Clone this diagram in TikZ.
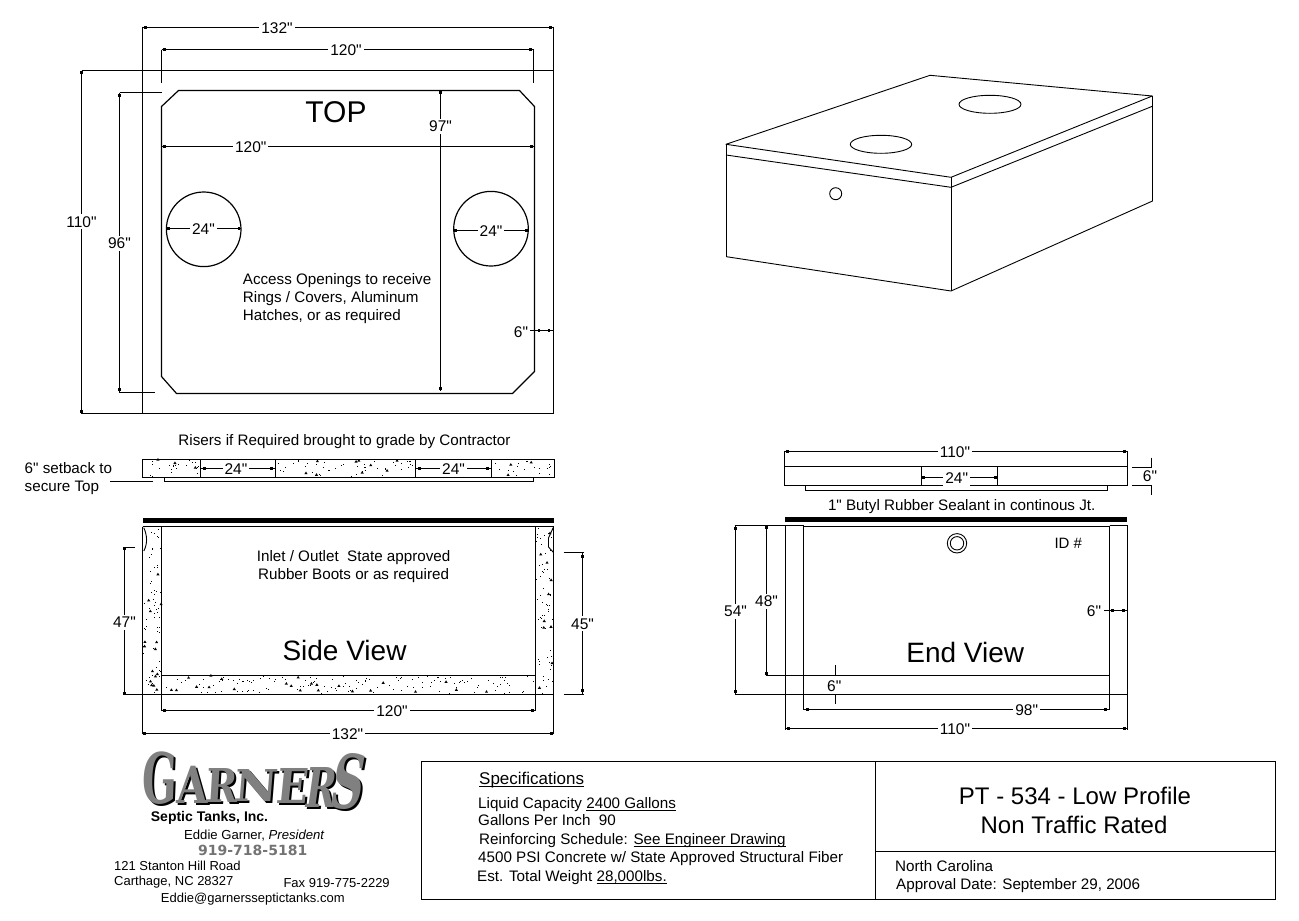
\documentclass[tikz,border=0pt]{standalone}
\usepackage{fontspec}
\setmainfont{Liberation Sans}
\newfontfamily\logof{DejaVu Serif}
\newfontfamily\phonef{DejaVu Sans}
\newcommand\fs[1]{\fontsize{#1}{#1}\selectfont}
\newcommand\q{\XeTeXglyph\XeTeXcharglyph"22\relax}
\newcommand\ulx[1]{\setbox0\hbox{#1}\rlap{\rule[-2.4pt]{\wd0}{0.9pt}}\box0}
\newcommand\dt[2]{\fill ({#1-1.3},{#2-1.3}) rectangle ++(2.6,2.6);}
% horizontal dimension: name, y, x1, x2, inset, label x, text
\newcommand\hd[7]{\draw[ln] (#3,#2) -- (#4,#2);\dt{#3+#5}{#2}\dt{#4-#5}{#2}\node[dimlab] (#1) at (#6,#2) {#7};}
% vertical dimension: name, x, y1, y2, inset, label y, text
\newcommand\vd[7]{\draw[ln] (#2,#3) -- (#2,#4);\dt{#2}{#3+#5}\dt{#2}{#4-#5}\node[dimlab] (#1) at (#2,#6) {#7};}
\newcommand\specks[5]{%
 \foreach \i in {1,...,#5}{%
  \pgfmathsetmacro\px{#1+rnd*(#3-#1-1)}\pgfmathsetmacro\py{#2+rnd*(#4-#2-1)}\pgfmathsetmacro\k{rnd}%
  \ifdim\k pt<0.14pt
   \fill (\px,\py) -- ++(1.6,-2.6) -- ++(1.6,2.6) -- cycle;
  \else
   \fill (\px,\py) rectangle ++(1,1);
  \fi}}
\newcommand\gl[7]{% name, x1, y-bottom, w, h, letter, slant
 \node[glet,black,xslant=#7] (#1s) at ({#2+2},{#3+1.6}) {\resizebox{#4pt}{#5pt}{\logof\bfseries #6}};
 \node[glet,gray,xslant=#7] (#1) at (#2,#3) {\resizebox{#4pt}{#5pt}{\logof\bfseries #6}};}
\tikzset{
 ln/.style={line width=1.2pt,line cap=butt},
 thinln/.style={line width=.9pt},
 txt/.style={inner sep=0pt,font=\fs{15.2},yshift=-2.8pt},
 dimlab/.style={fill=white,inner sep=2pt,font=\fs{15.5},yshift=-.8pt},
 big/.style={inner sep=0pt,font=\fs{28},yshift=.2pt},
 glet/.style={inner sep=0pt,anchor=south west,transform shape},
 logot/.style={inner sep=0pt,font=\fs{13},yshift=-1.5pt},
}
\begin{document}
\begin{tikzpicture}[x=1pt,y=-1pt]
\useasboundingbox (0,0) rectangle (1299,921);
\fill[white] (0,0) rectangle (1299,921);
\pgfmathsetseed{5311}
%% ---------- TOP ----------
\draw[ln] (81.5,70.5) -- (553.5,70.5) (81.5,413.5) -- (553.5,413.5);
\draw[ln] (142.5,26.5) -- (142.5,413.5) (553.5,26.5) -- (553.5,413.5);
\draw[ln] (161.5,49.5) -- (161.5,82.5) (533.5,49.5) -- (533.5,82.5);
\draw[ln,line join=miter] (161.5,106.5) -- (178.5,90.5) -- (519.5,90.5) -- (534.5,106.5) -- (534.5,371.5) -- (512.5,393.5) -- (176.5,393.5) -- (161.5,376.5) -- cycle;
\draw[ln] (119.5,92.5) -- (161.5,92.5) (119.5,392.5) -- (155,392.5);
\hd{d132}{27.5}{142.5}{553.5}{3}{277}{132\q}
\hd{d120a}{49.5}{161.5}{533.5}{3}{346}{120\q}
\hd{d120b}{146.5}{161.5}{534.5}{3}{250.7}{120\q}
\vd{d97}{440.5}{90.5}{390.5}{2}{125.7}{97\q}
\vd{d96}{119.5}{92.5}{392.5}{3}{242.3}{96\q}
\vd{d110}{81.5}{70.5}{413.5}{2}{221}{110\q}
\node[big,font=\fs{30}] (topt) at (336,112) {TOP};
\draw[ln] (203.7,229.3) circle (37.3pt) (491,228.7) circle (37.3pt);
\hd{c1}{228.5}{166.4}{241}{2}{203.5}{24\q}
\hd{c2}{230.5}{453.7}{528.3}{2}{491}{24\q}
\node[txt,anchor=mid west] (acc1) at (242.7,278.7) {Access Openings to receive};
\node[txt,anchor=mid west] (acc2) at (242.7,296.7) {Rings / Covers, Aluminum};
\node[txt,anchor=mid west] (acc3) at (242.7,315) {Hatches, or as required};
\draw[ln] (530,330.5) -- (553.5,330.5);\dt{539}{330.5}\dt{549}{330.5}
\node[dimlab] (six1) at (521,331) {6\q};
%% ---------- RISERS ----------
\node[txt,anchor=mid] (ris) at (344.5,440) {Risers if Required brought to grade by Contractor};
\node[txt,anchor=mid west] (set1) at (24.5,467.7) {6\q\ setback to};
\node[txt,anchor=mid west] (set2) at (24.5,486) {secure Top};
\specks{143}{460}{200}{477}{24}
\specks{276}{460}{415}{477}{52}
\specks{492}{460}{553}{477}{22}
\draw[ln] (142.5,459.5) rectangle (554.5,477.5);
\draw[ln] (200.5,459.5) -- (200.5,477.5) (275.5,459.5) -- (275.5,477.5) (415.5,459.5) -- (415.5,477.5) (491.5,459.5) -- (491.5,477.5);
\draw[ln] (164.5,477.5) -- (164.5,481.5) -- (533.5,481.5) -- (533.5,477.5);
\draw[ln] (110,481.5) -- (152.5,481.5);
\hd{r1}{468.5}{200.5}{275.5}{4}{236}{24\q}
\hd{r2}{468.5}{415.5}{491.5}{4}{453.6}{24\q}
%% ---------- SIDE VIEW ----------
\fill (143,518) rectangle (554,523);
\specks{143}{528}{161}{694}{70}
\specks{536}{528}{553}{694}{65}
\specks{162}{676}{535}{694}{150}
\draw[ln] (142.5,526.5) -- (553.5,526.5);
\draw[ln] (142.5,526.5) -- (142.5,733.5) (553.5,526.5) -- (553.5,733.5);
\draw[ln] (161.5,526.5) -- (161.5,710.5) (535.5,526.5) -- (535.5,710.5);
\draw[ln] (161.5,675.5) -- (535.5,675.5);
\draw[ln] (123.5,694.5) -- (553.5,694.5);
\draw[ln] (123.5,547.5) -- (135,547.5);
\draw[thinln] (143.8,527.7) .. controls (147.5,536) and (147.5,544) .. (143.8,551);
\draw[thinln] (553.5,527) -- (548.5,538) -- (548.5,547) -- (553.5,552.5);
\draw[ln] (563.5,552.5) -- (583.5,552.5) (563.5,694.5) -- (583.5,694.5);
\vd{d47}{124.5}{547.5}{694.5}{1}{621.7}{47\q}
\vd{d45}{582.5}{552.5}{694.5}{4}{623}{45\q}
\node[txt,anchor=mid] (inl1) at (353.6,555.7) {Inlet / Outlet\ \ State approved};
\node[txt,anchor=mid] (inl2) at (353.6,574) {Rubber Boots or as required};
\node[big] (sv) at (344.5,650.7) {Side View};
\hd{s120}{710.5}{161.5}{535.5}{3}{392}{120\q}
\hd{s132}{733.5}{142.5}{553.5}{2}{347.5}{132\q}
%% ---------- END LID ----------
\draw[ln] (784.5,451.5) rectangle (1127.5,485.5);
\draw[ln] (784.5,466.5) -- (1127.5,466.5);
\draw[ln] (921.5,466.5) -- (921.5,485.5) (997.5,466.5) -- (997.5,485.5);
\draw[ln] (805.5,485.5) -- (805.5,490.5) -- (1107.5,490.5) -- (1107.5,485.5);
\hd{e110a}{451.5}{784.5}{1127.5}{3}{955}{110\q}
\hd{e24}{477.5}{921.5}{997.5}{2}{956.7}{24\q}
\draw[ln] (1132,467.5) -- (1151.5,467.5) (1132,485.5) -- (1151.5,485.5);
\draw[ln] (1151.5,457.5) -- (1151.5,467.5) (1151.5,485.5) -- (1151.5,494.5);
\node[txt,font=\fs{15.5},anchor=mid] (e6) at (1150,476.3) {6\q};
\node[txt,anchor=mid] (seal) at (961.7,505) {1\q\ Butyl Rubber Sealant in continous Jt.};
%% ---------- END VIEW ----------
\fill (785,517) rectangle (1126.7,521.7);
\draw[ln] (734.5,525.5) -- (803.5,525.5) (1109.5,525.5) -- (1127.5,525.5);
\draw[ln] (803.5,526.5) -- (1109.5,526.5);
\draw[ln] (734.5,694.5) -- (1127.5,694.5);
\draw[ln] (765.5,675.5) -- (1109.5,675.5);
\draw[ln] (785.5,525.5) -- (785.5,729.5) (1127.5,525.5) -- (1127.5,729.5);
\draw[ln] (803.5,525.5) -- (803.5,709.5) (1109.5,525.5) -- (1109.5,709.5);
\draw[thinln] (957,543.3) circle (9.7pt);
\draw[thinln] (957,543.3) circle (6.7pt);
\node[txt,font=\fs{15},anchor=mid] (idn) at (1068.3,543.3) {ID \#};
\node[big] (ev) at (965.3,652.3) {End View};
\vd{d54}{735.5}{525.5}{694.5}{3}{610.7}{54\q}
\vd{d48}{766.5}{525.5}{675.5}{2}{600.7}{48\q}
\draw[ln] (835.5,665) -- (835.5,675.5) (835.5,694.5) -- (835.5,703.5);
\node[dimlab,fill=none] (e6b) at (834.3,685.7) {6\q};
\hd{e98}{709.5}{803.5}{1109.5}{4}{1026.7}{98\q}
\hd{e110b}{728.5}{785.5}{1127.5}{3}{955}{110\q}
\draw[ln] (1104,610.5) -- (1127.5,610.5);\dt{1112.7}{610.5}\dt{1123.7}{610.5}
\node[dimlab] (e6r) at (1094,610.7) {6\q};
%% ---------- ISOMETRIC ----------
\draw[thinln,line join=round] (726,144.3) -- (930,75.3) -- (1152.3,96) -- (951,177.3) -- cycle;
\draw[thinln] (726.5,144.3) -- (726.5,256.7) -- (951,291) -- (1152.5,201) -- (1152.5,96);
\draw[thinln] (951.5,177.3) -- (951.5,291);
\draw[thinln] (726,155) -- (951,187.3) -- (1152.3,106.3);
\draw[thinln] (881,144.3) ellipse [x radius=30.7,y radius=9];
\draw[thinln] (990,104.3) ellipse [x radius=31,y radius=9];
\draw[thinln] (835.7,193.7) circle (6pt);
%% ---------- TITLE BLOCK ----------
\draw[ln] (421.5,761.5) rectangle (1275.5,899.5);
\draw[ln] (875.5,761.5) -- (875.5,899.5) (875.5,851.5) -- (1275.5,851.5);
\node[txt,font=\fs{17},anchor=mid west] (sp0) at (479,779) {\ulx{Specifications}};
\node[txt,anchor=mid west] (sp1) at (478,803) {Liquid Capacity \ulx{2400 Gallons}};
\node[txt,anchor=mid west] (sp2) at (478,820) {Gallons Per Inch\ \ 90};
\node[txt,anchor=mid west] (sp3) at (479,839) {Reinforcing Schedule: \ulx{See Engineer Drawing}};
\node[txt,anchor=mid west] (sp4) at (478,857) {4500 PSI Concrete w/ State Approved Structural Fiber};
\node[txt,anchor=mid west] (sp5) at (477,876) {Est. Total Weight \ulx{28,000lbs.}};
\node[txt,font=\fs{24},anchor=mid] (pt1) at (1075,799.5) {PT - 534 - Low Profile};
\node[txt,font=\fs{24},anchor=mid] (pt2) at (1074,828.5) {Non Traffic Rated};
\node[txt,anchor=mid west] (nc) at (895,866) {North Carolina};
\node[txt,anchor=mid west] (ap) at (896,884) {Approval Date: September 29, 2006};
%% ---------- LOGO ----------
\gl{g1}{141.7}{805}{35}{51.7}{G}{0.04}
\gl{g2}{176.7}{804}{31.3}{37.3}{A}{0.04}
\gl{g3}{205}{803}{31.7}{34}{R}{0.06}
\gl{g4}{233}{802}{43.7}{32}{N}{0.08}
\gl{g5}{275}{804}{31.7}{35}{E}{0.1}
\gl{g6}{303}{808}{31}{40}{R}{0.14}
\gl{g7}{327}{810}{33}{55}{S}{0.18}
\node[logot,anchor=mid west,font=\fs{14}\bfseries] (l1) at (150.7,817) {Septic Tanks, Inc.};
\node[logot,anchor=mid west,font=\fs{13.1}] (l2) at (184,835.5) {Eddie Garner, \textit{President}};
\node[logot,anchor=mid,font=\fs{14}\phonef\bfseries,text=gray!90!black] (l3) at (252.7,851.3) {919-718-5181};
\node[logot,anchor=mid west] (l4) at (114,866) {121 Stanton Hill Road};
\node[logot,anchor=mid west] (l5) at (114,881) {Carthage, NC 28327};
\node[logot,anchor=mid west] (l6) at (283.3,883) {Fax 919-775-2229};
\node[logot,anchor=mid west] (l7) at (160.7,898.3) {Eddie@garnersseptictanks.com};
\end{tikzpicture}
\end{document}
